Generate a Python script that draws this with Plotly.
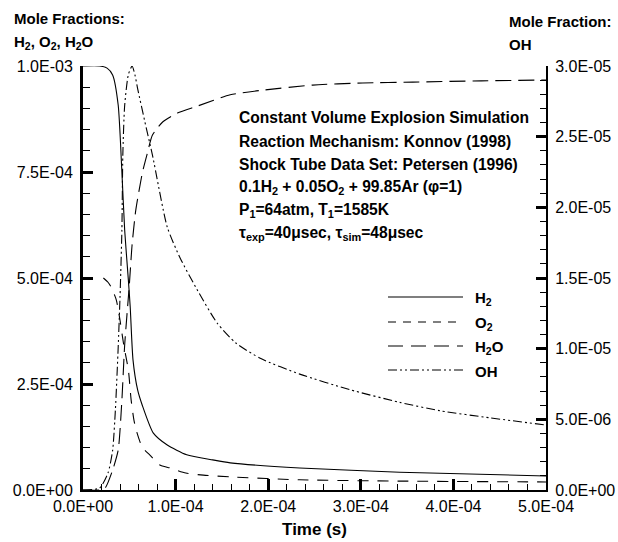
import plotly.graph_objects as go

# ---- simulation output (time in seconds, mole fractions) ----
t_h2 = [0, 1.8e-5, 2.6e-5, 3.2e-5, 3.8e-5, 4.2e-5, 4.5e-5, 4.9e-5, 5.1e-5, 5.4e-5,
        5.9e-5, 6.4e-5, 7.6e-5, 9.1e-5, 1.12e-4, 1.40e-4, 1.59e-4, 2.34e-4, 3.42e-4, 5.0e-4]
x_h2 = [1.0e-3, 1.0e-3, 0.995e-3, 0.979e-3, 0.908e-3, 0.750e-3, 0.613e-3, 0.495e-3, 0.431e-3, 0.307e-3,
        0.236e-3, 0.200e-3, 0.134e-3, 0.106e-3, 0.083e-3, 0.071e-3, 0.064e-3, 0.052e-3, 0.042e-3, 0.033e-3]

t_o2 = [2.2e-5, 2.7e-5, 3.1e-5, 3.6e-5, 4.0e-5, 4.4e-5, 4.9e-5, 5.2e-5, 5.5e-5, 5.8e-5,
        6.4e-5, 7.2e-5, 8.3e-5, 9.4e-5, 1.11e-4, 1.30e-4, 1.59e-4, 2.34e-4, 3.42e-4, 5.0e-4]
x_o2 = [0.5e-3, 0.49e-3, 0.476e-3, 0.448e-3, 0.40e-3, 0.342e-3, 0.283e-3, 0.212e-3, 0.165e-3, 0.137e-3,
        0.101e-3, 0.083e-3, 0.059e-3, 0.052e-3, 0.040e-3, 0.035e-3, 0.031e-3, 0.024e-3, 0.021e-3, 0.019e-3]

t_h2o = [0, 1.8e-5, 2.4e-5, 3.2e-5, 3.8e-5, 4.2e-5, 4.5e-5, 5.0e-5, 5.3e-5, 5.7e-5, 6.4e-5, 6.9e-5,
         7.5e-5, 8.6e-5, 1.02e-4, 1.23e-4, 1.59e-4, 1.94e-4, 2.48e-4, 3.02e-4, 3.56e-4, 4.3e-4, 5.0e-4]
x_h2o = [0, 0, 0.005e-3, 0.047e-3, 0.094e-3, 0.212e-3, 0.342e-3, 0.483e-3, 0.578e-3, 0.660e-3, 0.747e-3, 0.790e-3,
         0.837e-3, 0.868e-3, 0.889e-3, 0.905e-3, 0.932e-3, 0.943e-3, 0.955e-3, 0.960e-3, 0.962e-3, 0.965e-3, 0.967e-3]

t_oh = [0, 1.8e-5, 2.7e-5, 3.2e-5, 3.5e-5, 3.8e-5, 4.0e-5, 4.2e-5, 4.3e-5, 4.5e-5, 4.9e-5, 5.3e-5, 5.6e-5,
        5.9e-5, 6.7e-5, 7.5e-5, 9.1e-5, 1.05e-4, 1.23e-4, 1.45e-4, 1.65e-4, 1.92e-4, 2.34e-4, 2.88e-4,
        3.42e-4, 3.86e-4, 4.4e-4, 5.0e-4]
x_oh = [0, 1.4e-7, 1.2e-6, 2.8e-6, 5.7e-6, 1.01e-5, 1.37e-5, 1.84e-5, 2.37e-5, 2.72e-5, 2.94e-5, 3.0e-5, 2.94e-5,
        2.84e-5, 2.6e-5, 2.37e-5, 1.86e-5, 1.64e-5, 1.42e-5, 1.18e-5, 1.04e-5, 9.3e-6, 8.2e-6, 7.1e-6,
        6.2e-6, 5.6e-6, 5.1e-6, 4.6e-6]

# ---- axis ticks ----
x_ticks = [0, 1e-4, 2e-4, 3e-4, 4e-4, 5e-4]
x_labels = ["0.0E+00", "1.0E-04", "2.0E-04", "3.0E-04", "4.0E-04", "5.0E-04"]
y_ticks = [0, 2.5e-4, 5e-4, 7.5e-4, 1e-3]
y_labels = ["0.0E+00", "2.5E-04", "5.0E-04", "7.5E-04", "1.0E-03"]
y2_ticks = [0, 5e-6, 1e-5, 1.5e-5, 2e-5, 2.5e-5, 3e-5]
y2_labels = ["0.0E+00", "5.0E-06", "1.0E-05", "1.5E-05", "2.0E-05", "2.5E-05", "3.0E-05"]

species = ["H<sub>2</sub>", "O<sub>2</sub>", "H<sub>2</sub>O", "OH"]
curve_dash = ["solid", "11px,9px", "16px,7px", "9px,3px,2px,3px,2px,3px"]
key_dash = ["solid", "8px,7px", "15px,8px", "9px,3px,2px,3px,2px,3px"]

info_lines = [
    "Constant Volume Explosion Simulation",
    "Reaction Mechanism: Konnov (1998)",
    "Shock Tube Data Set: Petersen (1996)",
    "0.1H<sub>2</sub> + 0.05O<sub>2</sub> + 99.85Ar (\u03c6=1)",
    "P<sub>1</sub>=64atm, T<sub>1</sub>=1585K",
    "\u03c4<sub>exp</sub>=40\u03bcsec, \u03c4<sub>sim</sub>=48\u03bcsec",
]

FONT = "Arial, Liberation Sans, sans-serif"
W, H = 618, 542
ML, MR, MT, MB = 83, 72, 66, 52
PW, PH = W - ML - MR, H - MT - MB


def px(x):
    return (x - ML) / PW


def py(y):
    return (H - MB - y) / PH


fig = go.Figure()
series = [(t_h2, x_h2, "y"), (t_o2, x_o2, "y"), (t_h2o, x_h2o, "y"), (t_oh, x_oh, "y2")]
for (tt, vv, ax), dash, name in zip(series, curve_dash, species):
    fig.add_trace(go.Scatter(
        x=tt, y=vv, yaxis=ax, mode="lines", name=name, showlegend=False,
        line=dict(color="black", width=1.1, dash=dash, shape="spline", smoothing=0.6),
    ))

tickfont = dict(family=FONT, size=16, color="black")
fig.update_layout(
    width=W, height=H,
    margin=dict(l=ML, r=MR, t=MT, b=MB),
    paper_bgcolor="white", plot_bgcolor="white",
    showlegend=False,
    xaxis=dict(
        range=[0, 5e-4], tickmode="array", tickvals=x_ticks, ticktext=x_labels,
        ticks="inside", ticklen=11, tickwidth=3, tickcolor="black",
        showline=True, linewidth=2, linecolor="black", showgrid=False, zeroline=False,
        tickfont=tickfont, ticklabelstandoff=1, automargin=False,
        minor=dict(tick0=0, dtick=2e-5, ticks="inside", ticklen=6, tickwidth=1.3, tickcolor="black"),
        title=dict(text="<b>Time (s)</b>", font=dict(family=FONT, size=17, color="black"), standoff=9),
    ),
    yaxis=dict(
        range=[0, 1e-3], tickmode="array", tickvals=y_ticks, ticktext=y_labels,
        ticks="inside", ticklen=10, tickwidth=3, tickcolor="black",
        showline=True, linewidth=3, linecolor="black", showgrid=False, zeroline=False,
        tickfont=tickfont, ticklabelstandoff=4, automargin=False,
        minor=dict(tick0=0, dtick=5e-5, ticks="inside", ticklen=7, tickwidth=1.3, tickcolor="black"),
    ),
    yaxis2=dict(
        range=[0, 3e-5], overlaying="y", side="right", tickmode="array",
        tickvals=y2_ticks, ticktext=y2_labels,
        ticks="inside", ticklen=10, tickwidth=3, tickcolor="black",
        showline=True, linewidth=2, linecolor="black", showgrid=False, zeroline=False,
        tickfont=tickfont, ticklabelstandoff=4, automargin=False,
        minor=dict(tick0=0, dtick=1e-6, ticks="inside", ticklen=6, tickwidth=1.3, tickcolor="black"),
    ),
)

bold = dict(family=FONT, size=15, color="black")
info_font = dict(family=FONT, size=15.6, color="black")
ann = []
# axis headings
ann.append(dict(text="<b>Mole Fractions:</b>", x=px(13), y=py(19), font=bold))
ann.append(dict(text="<b>H<sub>2</sub>, O<sub>2</sub>, H<sub>2</sub>O</b>", x=px(13), y=py(42), font=bold))
ann.append(dict(text="<b>Mole Fraction:</b>", x=px(508), y=py(22), font=bold))
ann.append(dict(text="<b>OH</b>", x=px(508), y=py(45), font=bold))
# simulation description
for i, line in enumerate(info_lines):
    ann.append(dict(text="<b>" + line + "</b>", x=px(238), y=py(118 + 23 * i), font=info_font))
# key labels
key_y = [297, 322, 346, 370]
for name, ky in zip(species, key_y):
    ann.append(dict(text="<b>" + name + "</b>", x=px(474), y=py(ky + 1), font=bold))

fig.update_layout(annotations=[
    dict(a, xref="paper", yref="paper", xanchor="left", yanchor="middle",
         showarrow=False, borderpad=0) for a in ann
])

shapes = []
for dash, ky in zip(key_dash, key_y):
    shapes.append(dict(type="line", xref="paper", yref="paper",
                       x0=px(388), x1=px(463), y0=py(ky), y1=py(ky),
                       line=dict(color="black", width=1.1, dash=dash)))
fig.update_layout(shapes=shapes)

fig.write_html("out.html")
